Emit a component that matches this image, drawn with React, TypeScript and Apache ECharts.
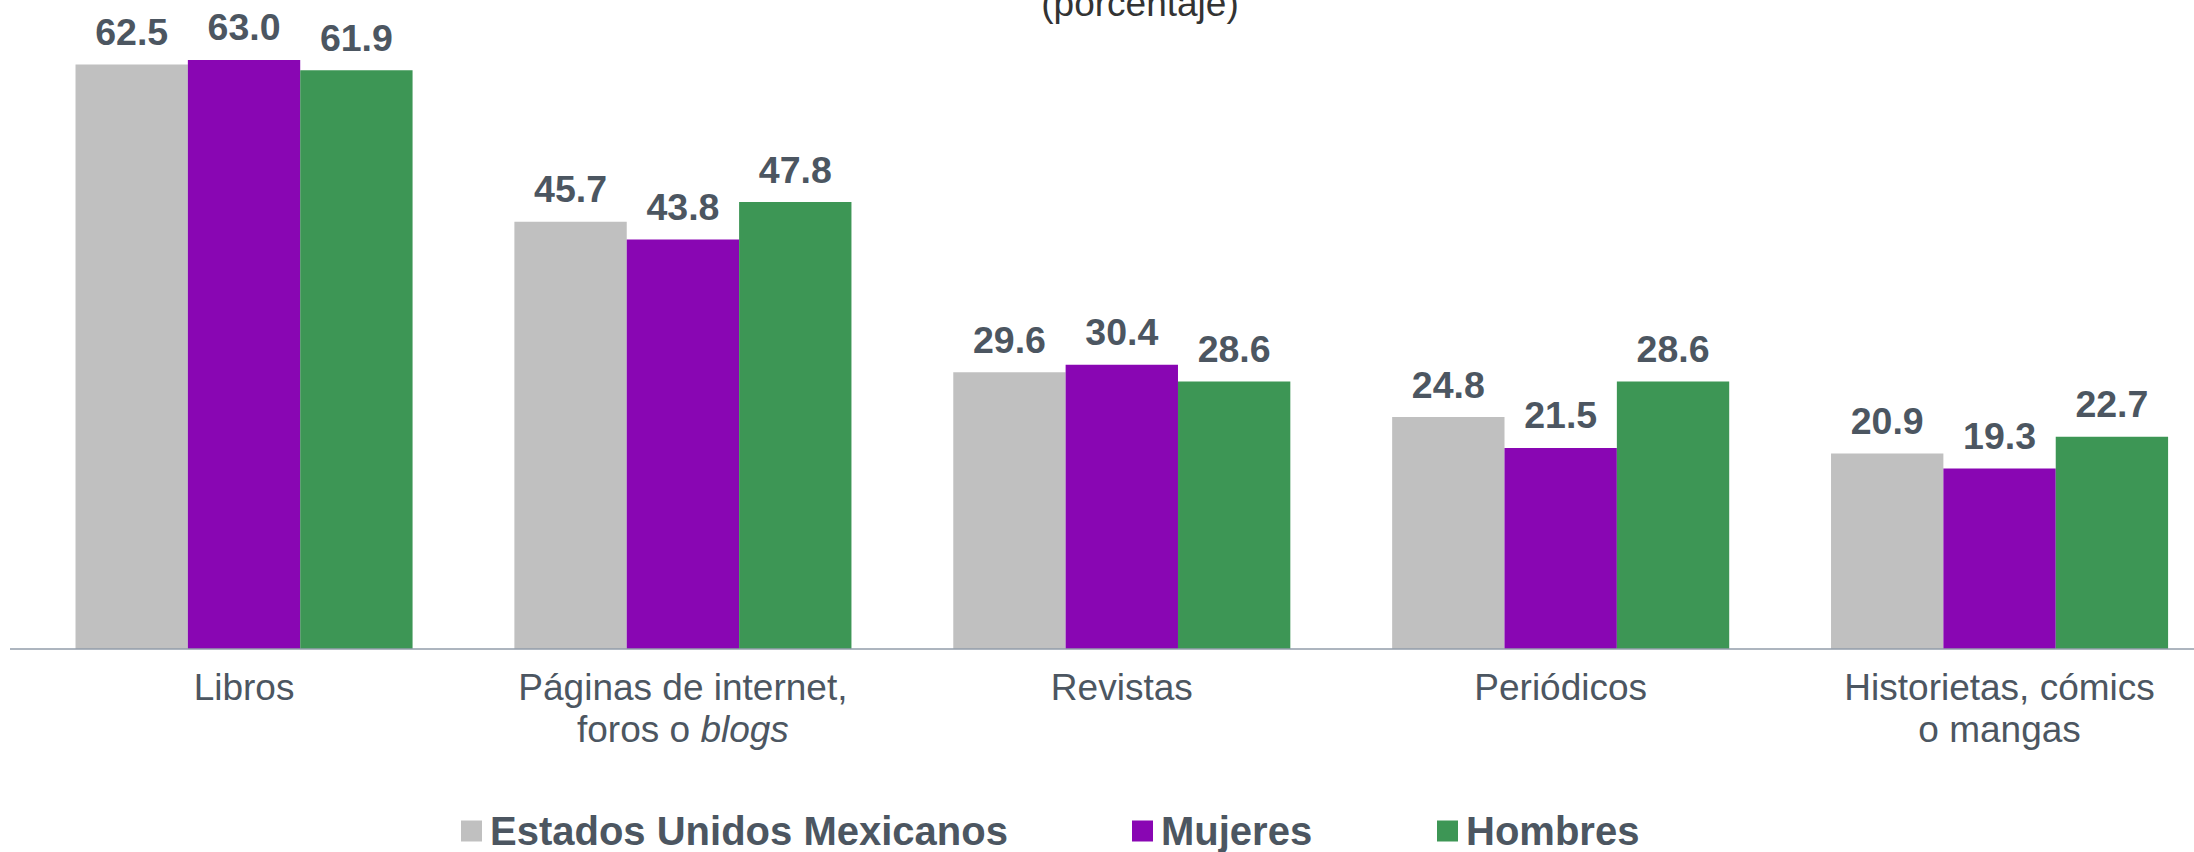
import React, { useEffect, useRef } from "react";
import * as echarts from "echarts";

const categories = [
  "Libros",
  "Páginas de internet,\nforos o blogs",
  "Revistas",
  "Periódicos",
  "Historietas, cómics\no mangas",
];
const seriesNames = ["Estados Unidos Mexicanos", "Mujeres", "Hombres"];
const eumValues = [62.5, 45.7, 29.6, 24.8, 20.9];
const mujeresValues = [63.0, 43.8, 30.4, 21.5, 19.3];
const hombresValues = [61.9, 47.8, 28.6, 28.6, 22.7];
const colors = ["#c0c0c0", "#8906b3", "#3d9655"];
const subtitle = "(porcentaje)";

const FONT = "'Liberation Sans', Arial, sans-serif";
const LABEL_COLOR = "#4c5661";

export default function App() {
  const ref = useRef<HTMLDivElement>(null);

  useEffect(() => {
    if (!ref.current) return;
    const chart = echarts.init(ref.current, null, { renderer: "svg" });
    const gridTop = 3.8;
    const gridBottom = 203;
    const axisY = 852 - gridBottom;
    const values = [eumValues, mujeresValues, hombresValues];
    const legendLefts = [461, 1132, 1437];

    const option: any = {
      animation: false,
      backgroundColor: "#ffffff",
      grid: { left: 24.6, right: 0, top: gridTop, bottom: gridBottom, containLabel: false },
      xAxis: {
        type: "category",
        data: categories,
        axisLine: { show: false },
        axisTick: { show: false },
        axisLabel: {
          interval: 0,
          margin: 17,
          color: LABEL_COLOR,
          fontFamily: FONT,
          fontSize: 37,
          lineHeight: 42,
          formatter: (v: string) =>
            v.includes("blogs") ? v.replace("blogs", "{i|blogs}") : v,
          rich: {
            i: {
              fontStyle: "italic",
              fontFamily: FONT,
              fontSize: 37,
              lineHeight: 42,
              color: LABEL_COLOR,
            },
          },
        },
      },
      yAxis: {
        type: "value",
        min: 0,
        max: 69,
        show: false,
        splitLine: { show: false },
      },
      legend: legendLefts.map((left, i) => ({
        data: [seriesNames[i]],
        left,
        top: 811,
        padding: 0,
        icon: "rect",
        itemWidth: 21,
        itemHeight: 21,
        selectedMode: false,
        textStyle: {
          fontFamily: FONT,
          fontSize: 40,
          fontWeight: "bold",
          color: LABEL_COLOR,
          lineHeight: 38,
          padding: [0, 0, 0, 3],
        },
      })),
      graphic: [
        {
          type: "line",
          shape: { x1: 10, y1: axisY, x2: 2194, y2: axisY },
          style: { stroke: "#929daa", lineWidth: 1.5 },
          z: 10,
        },
        {
          type: "text",
          x: 1140,
          y: 3,
          style: {
            text: subtitle,
            fontFamily: FONT,
            fontSize: 37,
            fill: "#333333",
            align: "center",
            verticalAlign: "middle",
          },
        },
      ],
      series: seriesNames.map((name, i) => ({
        name,
        type: "bar",
        data: values[i],
        barGap: "0%",
        barCategoryGap: "23.2%",
        itemStyle: { color: colors[i] },
        label: {
          show: true,
          position: "top",
          distance: 14,
          fontFamily: FONT,
          fontSize: 37.5,
          fontWeight: "bold",
          lineHeight: 37,
          color: LABEL_COLOR,
          formatter: (p: any) => Number(p.value).toFixed(1),
        },
      })),
    };

    chart.setOption(option);
    return () => chart.dispose();
  }, []);

  return (
    <div
      style={{
        position: "fixed",
        left: 0,
        top: 0,
        width: 2194,
        height: 852,
        overflow: "hidden",
        background: "#fff",
      }}
    >
      <div ref={ref} style={{ width: 2218.6, height: 852 }} />
    </div>
  );
}
